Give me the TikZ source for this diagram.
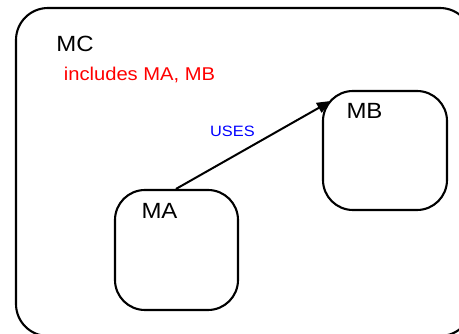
\documentclass[tikz,border=0pt]{standalone}
\usepackage{fontspec}
\setmainfont{Liberation Sans}
\usetikzlibrary{arrows.meta,calc}
% slightly widened lettering
\newcommand{\wide}[1]{\scalebox{1.09}[1]{#1}}
\tikzset{
  module/.style={draw, line width=2.1pt, rounded corners=30pt, inner sep=0pt,
    minimum width=123pt, minimum height=120pt},
  title/.style={inner sep=0pt, font=\fontsize{22}{24}\selectfont},
  note/.style={inner sep=0pt, text=red, font=\fontsize{18.5}{20}\selectfont},
  rel/.style={inner sep=0pt, text=blue, font=\fontsize{15}{17}\selectfont},
  dep/.style={line width=2pt, -{Triangle[length=14pt,width=11pt]}}
}
\begin{document}
\begin{tikzpicture}[x=1pt,y=-1pt]
  \useasboundingbox (0,0) rectangle (459,334);
  \fill[white] (0,0) rectangle (459,334);
  \clip (0,0) rectangle (459,334);
  % container module
  \draw[line width=2.1pt, rounded corners=32pt] (16,8) rectangle (472,336);
  \node[title] (MC) at (75,43.5) {\wide{MC}};
  \node[note] (inc) at (139.5,75) {\wide{includes MA, MB}};
  % inner modules
  \node[module] (MA) at (176.5,250) {};
  \node[module, minimum width=124pt, minimum height=119pt] (MB) at (385,150.5) {};
  \node[title] (MAl) at (159.5,211) {\wide{MA}};
  \node[title] (MBl) at (364.5,111) {\wide{MB}};
  % dependency
  \draw[dep] ($(MA.north west)+(62,0)$) -- ($(MB.north west)+(9,11)$)
    node[rel, pos=0.4, xshift=-5.5pt, yshift=22pt] (uses) {\wide{USES}};
\end{tikzpicture}
\end{document}
